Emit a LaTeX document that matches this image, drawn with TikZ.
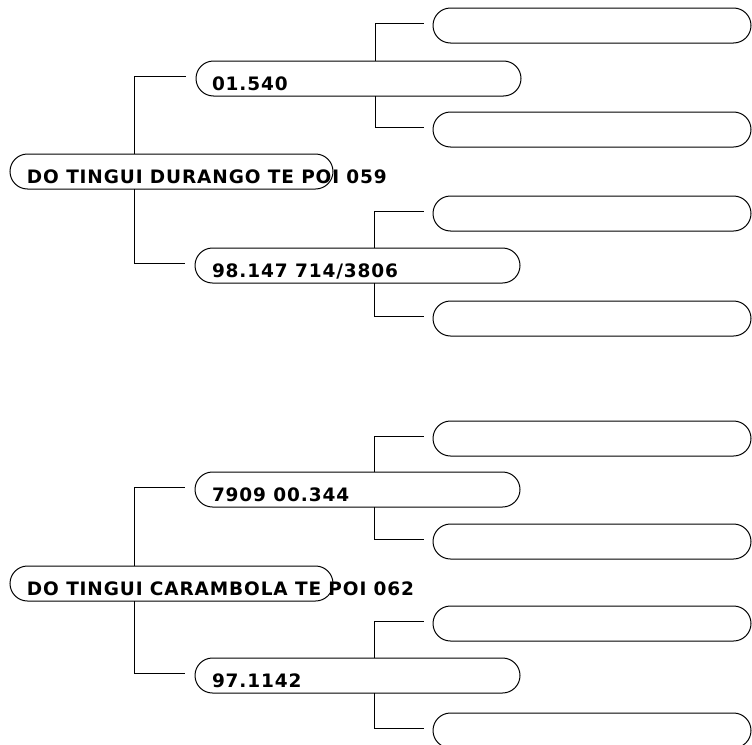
\documentclass[tikz,border=0pt]{standalone}
\usepackage{fontspec}
\newfontfamily\boxfont[LetterSpace=4.7]{DejaVu Sans}
\usetikzlibrary{positioning,shapes.misc}

\begin{document}
\begin{tikzpicture}[x=1pt, y=-1pt, line width=1pt,
  pill/.style={draw, rounded rectangle, minimum height=35pt, inner sep=0pt},
  rootbox/.style={pill, minimum width=323pt},
  midbox/.style={pill, minimum width=325pt},
  leafbox/.style={pill, minimum width=318pt},
  tag/.style={font=\boxfont\bfseries\fontsize{18.5}{21}\selectfont, inner sep=0pt, anchor=base west}]
  \useasboundingbox (0,0) rectangle (752,744);
  % Roots
  \node[rootbox] (rootA) at (171.5,171.5) {};
  \node[rootbox] (rootB) at (171.5,583.5) {};
  % Second level
  \node[midbox] (midA1) at (358.5,78.5) {};
  \node[midbox] (midA2) at (357.5,265.5) {};
  \node[midbox] (midB1) at (357.5,489.5) {};
  \node[midbox] (midB2) at (357.5,675.5) {};
  % Leaves (empty)
  \foreach \name/\y in {
    leafA1/25.5, leafA2/129.5, leafA3/213.5, leafA4/318.5,
    leafB1/438.5, leafB2/541.5, leafB3/623.5, leafB4/730.5
  } {
    \node[leafbox] (\name) at (592,\y) {};
  }
  % Texts
  \node[tag] (tagA) at ([shift={(17pt,-11.5pt)}]rootA.west) {DO TINGUI DURANGO TE POI 059};
  \node[tag] (tagB) at ([shift={(17pt,-11.5pt)}]rootB.west) {DO TINGUI CARAMBOLA TE POI 062};
  \node[tag] (tagA1) at ([shift={(16pt,-12pt)}]midA1.west) {01.540};
  \node[tag] (tagA2) at ([shift={(17pt,-12pt)}]midA2.west) {98.147 714/3806};
  \node[tag] (tagB1) at ([shift={(17pt,-12pt)}]midB1.west) {7909 00.344};
  \node[tag] (tagB2) at ([shift={(17pt,-12pt)}]midB2.west) {97.1142};
  % Root -> second level
  \foreach \r/\m/\n in {rootA/midA1/midA2, rootB/midB1/midB2} {
    \draw ([shift={(125pt,17.5pt)}]\r.west) |- ([shift={(-10pt,2pt)}]\m.west);
    \draw ([shift={(125pt,-17.5pt)}]\r.west) |- ([shift={(-10pt,2pt)}]\n.west);
  }
  % Second level -> leaves
  \foreach \m/\a/\b in {midA1/leafA1/leafA2, midA2/leafA3/leafA4,
                        midB1/leafB1/leafB2, midB2/leafB3/leafB4} {
    \draw ([shift={(179.5pt,17.5pt)}]\m.west) |- ([shift={(-9pt,2pt)}]\a.west);
    \draw ([shift={(179.5pt,-17.5pt)}]\m.west) |- ([shift={(-9pt,2pt)}]\b.west);
  }
\end{tikzpicture}
\end{document}
